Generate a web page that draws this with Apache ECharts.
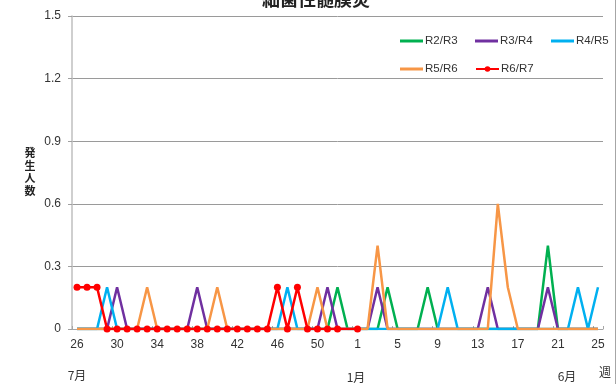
<!DOCTYPE html>
<html>
<head>
<meta charset="utf-8">
<script src="https://cdn.jsdelivr.net/npm/echarts@6/dist/echarts.min.js"></script>
<style>html,body{margin:0;padding:0;background:#fff;}#c{width:616px;height:384px;}</style>
</head>
<body>
<div id="c"></div>
<script>
const weeks = ['26','27','28','29','30','31','32','33','34','35','36','37','38','39','40','41','42','43','44','45','46','47','48','49','50','51','52','53',
  '1','2','3','4','5','6','7','8','9','10','11','12','13','14','15','16','17','18','19','20','21','22','23','24','25'];
const yTicks = [0, 0.3, 0.6, 0.9, 1.2, 1.5];
const r2r3 = [0,0,0,0,0,0,0,0,0,0, 0,0,0,0,0,0,0,0,0,0, 0,0,0,0,0,0,0.2,0,0,0, 0,0.2,0,0,0,0.2,0,0,0,0, 0,0,0,0,0,0,0,0.4,0,0, 0,0,0];
const r3r4 = [0,0,0,0,0.2,0,0,0,0,0, 0,0,0.2,0,0,0,0,0,0,0, 0,0,0,0,0,0.2,0,null,0,0, 0.2,0,0,0,0,0,0,0,0,0, 0,0.2,0,0,0,0,0,0.2,0,0, 0,0,0];
const r4r5 = [0,0,0,0.2,0,0,0,0,0,0, 0,0,0,0,0,0,0,0,0,0, 0,0.2,0,0,0,0,0,null,0,0, 0,0,0,0,0,0,0,0.2,0,0, 0,0,0,0,0,0,0,0,0,0, 0.2,0,0.2];
const r5r6 = [0,0,0,0,0,0,0,0.2,0,0, 0,0,0,0,0.2,0,0,0,0,0, 0,0,0,0,0.2,0,0,null,0,0, 0.4,0,0,0,0,0,0,0,0,0, 0,0,0.6,0.2,0,0,0,0,0,0, 0,0,0];
const r6r7 = [0.2,0.2,0.2,0,0,0,0,0,0,0, 0,0,0,0,0,0,0,0,0,0, 0.2,0,0.2,0,0,0,0,null,0,null, null,null,null,null,null,null,null,null,null,null, null,null,null,null,null,null,null,null,null,null, null,null,null];

const seriesNames = ['R2/R3','R3/R4','R4/R5','R5/R6','R6/R7'];
const seriesData = [r2r3, r3r4, r4r5, r5r6, r6r7];
const colors = ['#00B050','#7030A0','#00B0F0','#F79646','#FF0000'];

const chart = echarts.init(document.getElementById('c'), null, {renderer:'canvas'});
const numFont = '"Liberation Sans", Arial, sans-serif';
const jpFont = '"Noto Sans CJK JP", sans-serif';

const series = seriesNames.map((n, i) => ({
  name: n,
  type: 'line',
  data: seriesData[i],
  connectNulls: true,
  symbol: i === 4 ? 'circle' : 'none',
  symbolSize: 7,
  showSymbol: i === 4,
  showAllSymbol: true,
  lineStyle: {width: 2.5, color: colors[i]},
  itemStyle: {color: colors[i], borderWidth: 0},
  emphasis: {disabled: true},
  animation: false,
  z: 2 + i
}));

const legendText = {fontFamily: numFont, fontSize: 11.5, color: '#333', padding: [0, 0, 0, -3]};
const legendPos = [[395, 30], [470, 30], [546, 30], [395, 58], [470, 58]];
const legends = seriesNames.map((n, i) => {
  const base = {left: legendPos[i][0], top: legendPos[i][1], width: 120, itemWidth: 23,
    textStyle: legendText, selectedMode: false, data: [n]};
  if (i === 4) return Object.assign(base, {itemHeight: 7});
  return Object.assign(base, {icon: 'rect', itemHeight: 3});
});

chart.setOption({
  animation: false,
  color: colors,
  grid: {left: 72, right: 13, top: 16, bottom: 55, containLabel: false},
  legend: legends,
  xAxis: {
    type: 'category', data: weeks, boundaryGap: true,
    axisLine: {lineStyle: {color: '#a6a6a6', width: 1}},
    axisTick: {show: true, inside: true, length: 3, interval: 3, lineStyle: {color: '#a6a6a6'}},
    axisLabel: {interval: 3, margin: 10, fontFamily: numFont, fontSize: 12, color: '#333'},
    splitLine: {show: false}
  },
  yAxis: {
    type: 'value', min: 0, max: 1.5, interval: 0.3,
    axisLine: {show: true, lineStyle: {color: '#bfbfbf', width: 1.5}},
    axisTick: {show: true, inside: false, length: 4, lineStyle: {color: '#a0a0a0'}},
    axisLabel: {margin: 11, fontFamily: numFont, fontSize: 12, color: '#333',
      formatter: v => yTicks.includes(+v.toFixed(1)) ? (v === 0 ? '0' : v.toFixed(1)) : ''},
    splitLine: {show: true, lineStyle: {color: '#9a9a9a', width: 1}}
  },
  series: series,
  graphic: [
    {type: 'text', style: {text: '細菌性髄膜炎', x: 316, y: -1, fontFamily: jpFont, fontWeight: 'bold', fontSize: 18, fill: '#222', align: 'center', verticalAlign: 'middle'}, silent: true},
    {type: 'text', style: {text: '発\n生\n人\n数', x: 30, y: 172, fontFamily: jpFont, fontWeight: 'bold', fontSize: 11, lineHeight: 12.5, fill: '#222', align: 'center', verticalAlign: 'middle'}, silent: true},
    {type: 'text', style: {text: '7月', x: 77, y: 375, fontFamily: jpFont, fontSize: 12, fill: '#333', align: 'center', verticalAlign: 'middle'}, silent: true},
    {type: 'text', style: {text: '1月', x: 356, y: 377, fontFamily: jpFont, fontSize: 12, fill: '#333', align: 'center', verticalAlign: 'middle'}, silent: true},
    {type: 'text', style: {text: '6月', x: 567, y: 376, fontFamily: jpFont, fontSize: 12, fill: '#333', align: 'center', verticalAlign: 'middle'}, silent: true},
    {type: 'text', style: {text: '週', x: 605, y: 372, fontFamily: jpFont, fontSize: 12, fill: '#333', align: 'center', verticalAlign: 'middle'}, silent: true},
    {type: 'line', shape: {x1: 615.5, y1: 0, x2: 615.5, y2: 384}, style: {stroke: '#a6a6a6', lineWidth: 1}, silent: true}
  ]
});
</script>
</body>
</html>
